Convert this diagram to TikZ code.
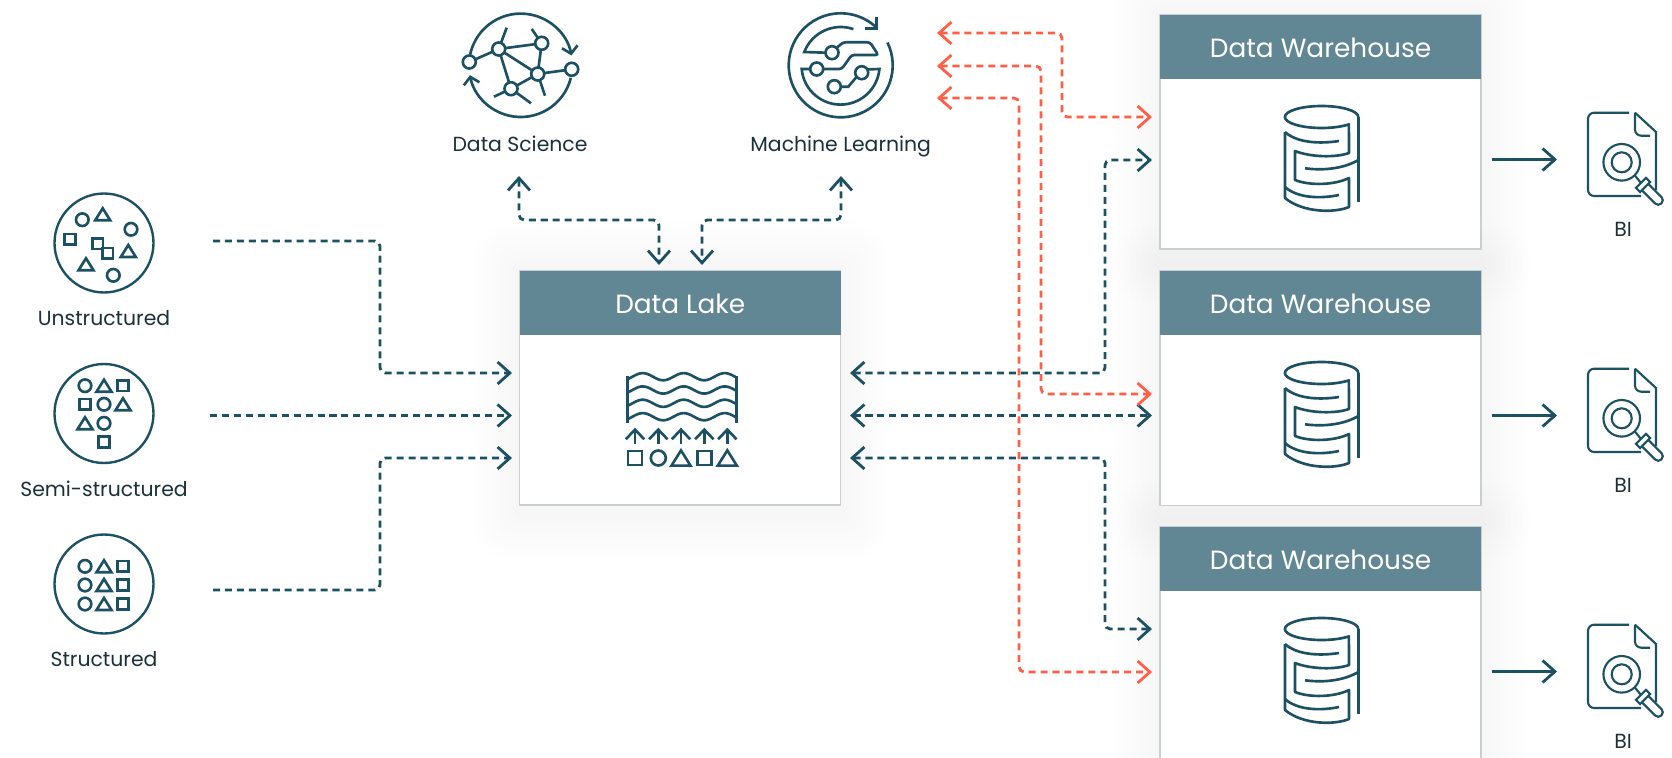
\documentclass[tikz,border=0pt]{standalone}
\usepackage{fontspec}
\setmainfont{Poppins}
\usetikzlibrary{arrows.meta}

\definecolor{tealdark}{HTML}{1B5162}
\definecolor{headteal}{HTML}{618794}
\definecolor{flowred}{HTML}{FF5F46}
\definecolor{inktext}{HTML}{1B3139}
\definecolor{boxedge}{HTML}{C9CED1}
\definecolor{shadelight}{HTML}{AEBBC0}

\tikzset{
  iconline/.style={draw=tealdark, line width=1.5pt},
  thinicon/.style={draw=tealdark, line width=1.2pt},
  ringnode/.style={circle, draw=tealdark, line width=1.35pt, minimum size=1.98cm, inner sep=0pt},
  boxbody/.style={draw=boxedge, line width=0.7pt, fill=white, minimum width=6.42cm, minimum height=4.69cm, inner sep=0pt},
  boxhead/.style={fill=headteal, text=white, font=\fontsize{15}{16}\selectfont, text height=14pt, text depth=2pt, minimum width=6.42cm, minimum height=1.29cm, inner sep=0pt},
  caption/.style={text=inktext, font=\fontsize{11.6}{13}\selectfont, text height=9pt, text depth=3pt, inner sep=0pt},
  flow/.style={line width=1.6pt, dash pattern=on 4pt off 2.8pt, rounded corners=3pt},
  flowdark/.style={flow, draw=tealdark},
  flowhot/.style={flow, draw=flowred},
  biarrow/.style={draw=tealdark, line width=1.6pt},
  shadowlayer/.style={fill=shadelight, opacity=0.01}
}

% Small shapes: x, y, size
\newcommand{\iconSquare}[3]{\draw[iconline] ({#1-#3},{#2-#3}) rectangle ({#1+#3},{#2+#3});}
\newcommand{\iconCircle}[3]{\draw[iconline] (#1,#2) circle[radius=#3];}
\newcommand{\iconTriangle}[3]{\draw[iconline, line join=miter] ({#1-#3},{#2+.8*#3}) -- ({#1+#3},{#2+.8*#3}) -- (#1,{#2-.8*#3}) -- cycle;}

% Soft shade round a box: left, top, right, bottom
\newcommand{\softShade}[4]{
  \foreach \r in {6,12,...,48}{
    \fill[shadowlayer, rounded corners=\r*0.5pt] ({#1-\r},{#2-\r}) rectangle ({#3+\r},{#4+\r+8});
  }
}

% Striped database, moved down by #1
\newcommand{\warehouseIcon}[1]{
  \begin{scope}[shift={(0,#1)}]
    \draw[iconline, line join=round] (1358.3,117) arc[start angle=0, end angle=-318, x radius=36.7, y radius=11] -- (1349,153) .. controls (1335,158) and (1310,157) .. (1295,151) -- (1295,180) .. controls (1310,186) and (1335,185) .. (1349,178) -- (1349,207) .. controls (1335,213) and (1303,213) .. (1285,198) -- (1285,132);
    \draw[iconline] (1285,132) .. controls (1297,143) and (1320,144) .. (1339,141);
    \draw[iconline] (1285,187) .. controls (1297,198) and (1320,199) .. (1339,195);
    \draw[iconline] (1305,168.3) .. controls (1325,171) and (1345,168) .. (1358.3,160);
    \draw[iconline] (1358.3,117) -- (1358.3,201.7);
  \end{scope}
}

% Report with magnifier, moved down by #1
\newcommand{\reportIcon}[1]{
  \begin{scope}[shift={(0,#1)}]
    \draw[thinicon, rounded corners=3.5pt] (1629,112.7) -- (1588,112.7) -- (1588,196) -- (1641,196);
    \draw[thinicon] (1635,112.7) -- (1656,132) -- (1656,190);
    \draw[thinicon, rounded corners=3.5pt] (1635,112.7) -- (1635,135.7) -- (1650,135.7);
    \draw[thinicon] (1621.7,162.3) circle[radius=18.3];
    \draw[thinicon] (1621.7,162.3) circle[radius=10];
    \draw[thinicon] (1634.8,175.4) -- (1640.9,182.9);
    \draw[thinicon] (1645.9,177.9) -- (1650.1,182.1) -- (1640.1,192.1) -- (1635.9,187.9) -- cycle;
    \draw[thinicon, rounded corners=2.5pt] (1648.3,183.9) -- (1664.6,200.2) -- (1658.2,206.6) -- (1641.9,190.3);
  \end{scope}
}

\begin{document}
\begin{tikzpicture}[x=0.02cm, y=-0.02cm, >={Straight Barb[length=7pt,width=12.5pt]}]
\useasboundingbox (0,0) rectangle (1672,757);
\fill[white] (0,0) rectangle (1672,757);

% Shading behind the boxes
\softShade{519.5}{270.5}{841}{505}
\softShade{1160}{14.5}{1481}{249}
\softShade{1160}{271}{1481}{505}
\softShade{1160}{527}{1481}{761}

% Boxes
\node[boxbody] (lake) at (680.25,387.75) {};
\node[boxhead] (lakehead) at (680.25,303) {Data Lake};
\node[boxbody] (whA) at (1320.5,131.75) {};
\node[boxhead] (whAhead) at (1320.5,46.75) {Data Warehouse};
\node[boxbody] (whB) at (1320.5,388) {};
\node[boxhead] (whBhead) at (1320.5,303) {Data Warehouse};
\node[boxbody] (whC) at (1320.5,644) {};
\node[boxhead] (whChead) at (1320.5,559) {Data Warehouse};

% Sources on the left
\node[ringnode] (srcU) at (104,243) {};
\node[caption] (srcUlabel) at (104,320.7) {Unstructured};
\node[ringnode] (srcS) at (104,413.5) {};
\node[caption] (srcSlabel) at (104,491.4) {Semi-structured};
\node[ringnode] (srcT) at (104,584) {};
\node[caption] (srcTlabel) at (104,661.7) {Structured};

\iconCircle{82.3}{219.7}{6.3}
\iconTriangle{102.7}{214.3}{7.5}
\iconCircle{131}{229.3}{6.3}
\iconSquare{70}{239.3}{5.2}
\iconSquare{97.7}{243.7}{5.2}
\iconSquare{107.7}{253.3}{5.2}
\iconTriangle{128.3}{251}{7.5}
\iconTriangle{86}{264.3}{7.5}
\iconCircle{113.3}{275.3}{6.3}

\iconCircle{85}{385.7}{6.3}
\iconTriangle{104}{385.7}{7.5}
\iconSquare{123}{385.7}{5.2}
\iconSquare{85}{404.3}{5.2}
\iconCircle{104}{404.3}{6.3}
\iconTriangle{123}{404.3}{7.5}
\iconTriangle{85}{423.3}{7.5}
\iconCircle{104}{423.3}{6.3}
\iconSquare{104}{442}{5.2}

\foreach \rowy in {566.3,585,604}{
  \iconCircle{85}{\rowy}{6.3}
  \iconTriangle{104}{\rowy}{7.5}
  \iconSquare{123}{\rowy}{5.2}
}

% Lake icon
\foreach \wavey in {376.7,390,403.3,416.7}{
  \draw[iconline] plot[domain=0:109, samples=50, smooth] ({627.7+\x},{\wavey-3.6*cos((\x-15)/41*360)});
}
\draw[iconline] (627.7,376) -- (627.7,423);
\draw[iconline] (736.7,376) -- (736.7,423);
\foreach \upx in {635,658.3,681,704.3,727.3}{
  \draw[iconline, -{Straight Barb[length=5.5pt,width=10.5pt]}] (\upx,444) -- (\upx,427.7);
}
\iconSquare{635}{458}{7}
\iconCircle{658.3}{458}{7.5}
\iconTriangle{681}{458}{9.5}
\iconSquare{704.3}{458}{7}
\iconTriangle{727.3}{458}{9.5}

% Data science icon
\draw[iconline, -{Straight Barb[length=4pt,width=9pt]}] (520.7,65.3) ++(192:51.7) arc[start angle=192, end angle=349, radius=51.7];
\draw[iconline, -{Straight Barb[length=4pt,width=9pt]}] (520.7,65.3) ++(14:51.7) arc[start angle=14, end angle=169, radius=51.7];
\draw[iconline] (469.3,62) -- (498.7,49) -- (541.7,43.3) -- (537.7,74) -- (571.7,69.3);
\draw[iconline] (498.7,49) -- (537.7,74) -- (511,88.7) -- (498.7,49);
\draw[iconline] (498.7,49) -- (506.7,27.7);
\draw[iconline] (541.7,43.3) -- (531.7,29);
\draw[iconline] (537.7,74) -- (545,95.7);
\draw[iconline] (511,88.7) -- (494,96.7);
\draw[iconline] (511,88.7) -- (531,103.3);
\foreach \dotx/\doty in {469.3/62,498.7/49,541.7/43.3,537.7/74,571.7/69.3,511/88.7}{
  \draw[iconline, fill=white] (\dotx,\doty) circle[radius=6.5];
}
\node[caption] (sciencelabel) at (520,146.4) {Data Science};

% Machine learning icon
\draw[iconline] (840.7,65.3) ++(334:52) arc[start angle=334, end angle=674, radius=52];
\draw[iconline] (876.7,17.3) -- (876.7,28.3) -- (865,28.3);
\draw[iconline] (840.7,66) ++(289:39) arc[start angle=289, end angle=201, radius=39] -- (826,52.7);
\draw[iconline, rounded corners=1.5pt] (837,47.5) -- (843.3,42.3) -- (870,42.3) -- (878.3,55) -- (851.7,55) -- (841.7,69) -- (823.3,69);
\draw[iconline] (810,69) -- (801.7,69) arc[start angle=175, end angle=5, radius=39] -- (868,69.4);
\draw[iconline] (856.5,77) -- (848.3,86.7) -- (841,86.7);
\foreach \dotx/\doty in {832/52.7,816.7/69,861.7/72.7,834.3/86.7}{
  \draw[iconline] (\dotx,\doty) circle[radius=6.5];
}
\node[caption] (mllabel) at (840.7,146.4) {Machine Learning};

% Warehouse icons and reports
\warehouseIcon{0}
\warehouseIcon{256}
\warehouseIcon{512}
\reportIcon{0}
\reportIcon{256}
\reportIcon{512}
\node[caption] (biA) at (1623,231.4) {BI};
\node[caption] (biB) at (1623,487.4) {BI};
\node[caption] (biC) at (1623,743.4) {BI};

% Free ends of the connectors
\coordinate (lakeinA) at (512,373);
\coordinate (lakeinB) at (512,415.5);
\coordinate (lakeinC) at (512,458);
\coordinate (lakeoutA) at (850,373);
\coordinate (lakeoutB) at (850,415.5);
\coordinate (lakeoutC) at (850,458);
\coordinate (lakeupA) at (659,265);
\coordinate (lakeupB) at (702,265);
\coordinate (sciencedown) at (519,176);
\coordinate (mldown) at (841,176);
\coordinate (mlrightA) at (937,33);
\coordinate (mlrightB) at (937,66);
\coordinate (mlrightC) at (937,98);
\coordinate (whAhot) at (1152,117);
\coordinate (whAcool) at (1152,160);
\coordinate (whBhot) at (1152,394);
\coordinate (whBcool) at (1152,415.5);
\coordinate (whCcool) at (1152,629);
\coordinate (whChot) at (1152,672);
\coordinate (srcUout) at (213,241);
\coordinate (srcSout) at (210,415.5);
\coordinate (srcTout) at (213,590);

% Connectors
\draw[flowdark, ->] (srcUout) -- (380,241) -- (380,373) -- (lakeinA);
\draw[flowdark, ->] (srcSout) -- (lakeinB);
\draw[flowdark, ->] (srcTout) -- (380,590) -- (380,458) -- (lakeinC);
\draw[flowdark, <->] (sciencedown) -- (519,220) -- (659,220) -- (lakeupA);
\draw[flowdark, <->] (mldown) -- (841,220) -- (702,220) -- (lakeupB);
\draw[flowdark, <->] (lakeoutA) -- (1105,373) -- (1105,160) -- (whAcool);
\draw[flowdark, <->] (lakeoutB) -- (whBcool);
\draw[flowdark, <->] (lakeoutC) -- (1105,458) -- (1105,629) -- (whCcool);
\draw[flowhot, <->] (mlrightA) -- (1062,33) -- (1062,117) -- (whAhot);
\draw[flowhot, <->] (mlrightB) -- (1041,66) -- (1041,394) -- (whBhot);
\draw[flowhot, <->] (mlrightC) -- (1019,98) -- (1019,672) -- (whChot);

% Warehouse to report
\coordinate (whAout) at (1492,159.5);
\coordinate (repA) at (1557,159.5);
\coordinate (whBout) at (1492,415.5);
\coordinate (repB) at (1557,415.5);
\coordinate (whCout) at (1492,671.5);
\coordinate (repC) at (1557,671.5);
\draw[biarrow, ->] (whAout) -- (repA);
\draw[biarrow, ->] (whBout) -- (repB);
\draw[biarrow, ->] (whCout) -- (repC);
\end{tikzpicture}
\end{document}
